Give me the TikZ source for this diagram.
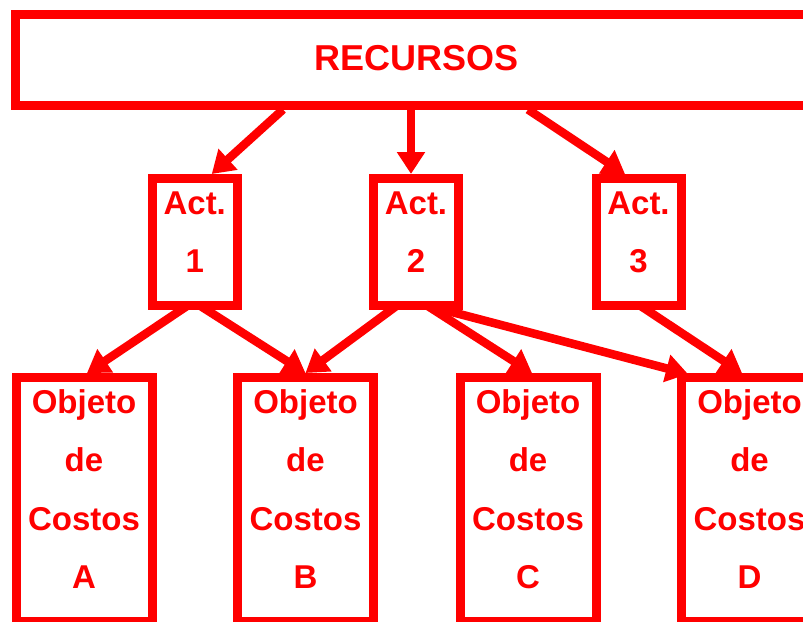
\documentclass[tikz,border=0pt]{standalone}
\usepackage{fontspec}
\setmainfont{Liberation Sans}
\usetikzlibrary{arrows.meta,calc}
\begin{document}
\begin{tikzpicture}[x=1pt,y=-1pt,
  boxframe/.style={draw=red,line width=9pt,inner sep=0pt,rectangle},
  actframe/.style={boxframe,minimum width=85pt,minimum height=126.5pt},
  objframe/.style={boxframe,minimum width=136pt,minimum height=244pt},
  boxtext/.style={text=red,align=center,inner sep=0pt,
    font=\fontsize{33}{58}\selectfont\bfseries},
  objtext/.style={boxtext,font=\fontsize{33}{58.5}\selectfont\bfseries},
  arr/.style={draw=red,line width=8.5pt,-{Triangle[length=22pt,width=27pt]}}
]
\useasboundingbox (0,0) rectangle (803,621);
% resources bar
\node[boxframe,minimum width=801pt,minimum height=90.5pt] (rec) at (416,59.75) {};
\node[text=red,inner sep=0pt,font=\fontsize{36}{40}\selectfont\bfseries] (rect) at (416.5,58) {RECURSOS};
% activities
\node[actframe] (a1) at (194.75,241.75) {};
\node[actframe] (a2) at (416,241.75) {};
\node[actframe] (a3) at (638.5,241.75) {};
\node[boxtext] (a1t) at (194.75,232.2) {Act.\\1};
\node[boxtext] (a2t) at (416,232.2) {Act.\\2};
\node[boxtext] (a3t) at (638.5,232.2) {Act.\\3};
% cost objects
\node[objframe] (oA) at (84,499.5) {};
\node[objframe] (oB) at (305.5,499.5) {};
\node[objframe] (oC) at (528,499.5) {};
\node[objframe] (oD) at (749.5,499.5) {};
\node[objtext] (oAt) at (84,489) {Objeto\\de\\Costos\\A};
\node[objtext] (oBt) at (305.5,489) {Objeto\\de\\Costos\\B};
\node[objtext] (oCt) at (528,489) {Objeto\\de\\Costos\\C};
\node[objtext] (oDt) at (749.5,489) {Objeto\\de\\Costos\\D};
% resources -> activities
\draw[arr] ($(rec.south)+(-133,0)$) -- ($(a1.north)+(17,0)$);
\draw[arr] ($(rec.south)+(-5,0)$) -- ($(a2.north)+(-5,0)$);
\draw[arr] ($(rec.south)+(112,0)$) -- ($(a3.north)+(-13.5,0)$);
% activities -> cost objects
\draw[arr] ($(a1.south)+(-7,-4)$) -- ($(oA.north)+(3,0)$);
\draw[arr] ($(a1.south)+(5,-4)$) -- ($(oB.north)+(0,0)$);
\draw[arr] ($(a2.south)+(-19,-4)$) -- ($(oB.north)+(0,0)$);
\draw[arr] ($(a2.south)+(11,-4)$) -- ($(oC.north)+(4,0)$);
\draw[arr] ($(a2.south)+(11,-4)$) -- ($(oD.north)+(-61.5,1)$);
\draw[arr] ($(a3.south)+(1.5,-4)$) -- ($(oD.north)+(-7.5,0)$);
\end{tikzpicture}
\end{document}
